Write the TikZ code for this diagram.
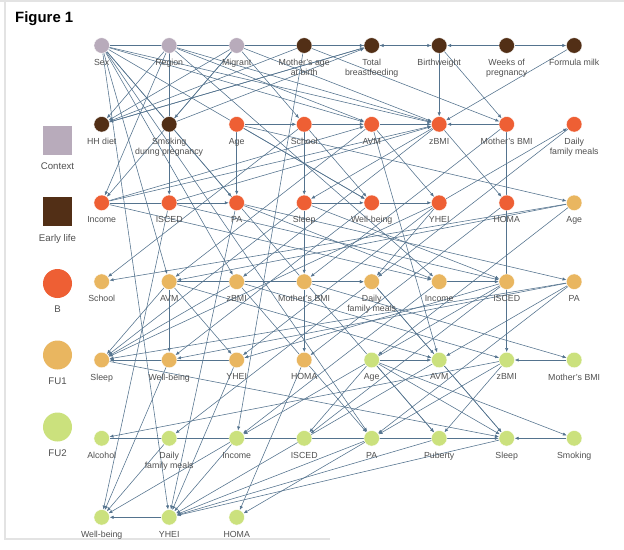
\documentclass[tikz,border=0pt]{standalone}
\usepackage{fontspec}
\setmainfont{Liberation Sans}
\usetikzlibrary{arrows.meta,backgrounds}
\definecolor{ctxgray}{RGB}{184,171,187}
\definecolor{earlybrown}{RGB}{82,47,22}
\definecolor{borange}{RGB}{238,95,52}
\definecolor{fuoneyellow}{RGB}{233,182,96}
\definecolor{futwogreen}{RGB}{203,225,125}
\definecolor{edgeblue}{RGB}{84,115,142}
\definecolor{labelgray}{RGB}{80,80,80}
\begin{document}
\begin{tikzpicture}[
	x=0.04cm,y=-0.04cm,
	var/.style={circle,minimum size=0.62cm,inner sep=0pt,draw=white,line width=0.4pt},
	ctx/.style={var,fill=ctxgray},
	early/.style={var,fill=earlybrown},
	base/.style={var,fill=borange},
	fuone/.style={var,fill=fuoneyellow},
	futwo/.style={var,fill=futwogreen},
	legsq/.style={minimum size=1.16cm,inner sep=0pt},
	legdot/.style={circle,minimum size=1.16cm,inner sep=0pt},
	every label/.style={font=\fontsize{10}{11.4}\selectfont,text=labelgray,align=center,inner sep=0pt},
	label distance=6.5pt,
	leglabel/.style={label distance=9pt,font=\fontsize{11}{12}\selectfont},
	edge/.style={draw=edgeblue,line width=0.65pt,-{Latex[length=4.5pt,width=3.8pt]}}
]
\useasboundingbox (0,0) rectangle (624,549);
%frame of the screenshot
\draw[gray!22,line width=1.2pt] (0,1)--(624,1) (5,1)--(5,539)--(330,539);
\node[anchor=base west,font=\fontsize{17}{20}\selectfont\bfseries,inner sep=0pt] (title) at (15,22.5) {Figure 1};
%legend
\node[legsq,fill=ctxgray,label={[leglabel]below:Context}] (legctx) at (57.5,140) {};
\node[legsq,fill=earlybrown,label={[leglabel]below:Early life}] (legearly) at (57.5,211.5) {};
\node[legdot,fill=borange,label={[leglabel]below:B}] (legb) at (57.5,283.5) {};
\node[legdot,fill=fuoneyellow,label={[leglabel]below:FU1}] (legfuone) at (57.5,355) {};
\node[legdot,fill=futwogreen,label={[leglabel]below:FU2}] (legfutwo) at (57.5,427) {};
%row 1
\node[ctx,label=below:Sex] (sex) at (101.7,45.5) {};
\node[ctx,label=below:Region] (region) at (169.2,45.5) {};
\node[ctx,label=below:Migrant] (migrant) at (236.7,45.5) {};
\node[early,label=below:{Mother's age\\at birth}] (mage) at (304.2,45.5) {};
\node[early,label=below:{Total\\breastfeeding}] (tbf) at (371.7,45.5) {};
\node[early,label=below:Birthweight] (bw) at (439.2,45.5) {};
\node[early,label=below:{Weeks of\\pregnancy}] (wop) at (506.7,45.5) {};
\node[early,label=below:Formula milk] (fm) at (574.2,45.5) {};
%row 2
\node[early,label=below:HH diet] (hhd) at (101.7,124.3) {};
\node[early,label=below:{Smoking\\during pregnancy}] (smk) at (169.2,124.3) {};
\node[base,label=below:Age] (ageB) at (236.7,124.3) {};
\node[base,label=below:School] (schoolB) at (304.2,124.3) {};
\node[base,label=below:AVM] (avmB) at (371.7,124.3) {};
\node[base,label=below:zBMI] (zbmiB) at (439.2,124.3) {};
\node[base,label=below:Mother's BMI] (mbmiB) at (506.7,124.3) {};
\node[base,label=below:{Daily\\family meals}] (dfmB) at (574.2,124.3) {};
%row 3
\node[base,label=below:Income] (incB) at (101.7,202.8) {};
\node[base,label=below:ISCED] (iscedB) at (169.2,202.8) {};
\node[base,label=below:PA] (paB) at (236.7,202.8) {};
\node[base,label=below:Sleep] (sleepB) at (304.2,202.8) {};
\node[base,label=below:Well-being] (wbB) at (371.7,202.8) {};
\node[base,label=below:YHEI] (yheiB) at (439.2,202.8) {};
\node[base,label=below:HOMA] (homaB) at (506.7,202.8) {};
\node[fuone,label=below:Age] (ageF) at (574.2,202.8) {};
%row 4
\node[fuone,label=below:School] (schoolF) at (101.7,281.7) {};
\node[fuone,label=below:AVM] (avmF) at (169.2,281.7) {};
\node[fuone,label=below:zBMI] (zbmiF) at (236.7,281.7) {};
\node[fuone,label=below:Mother's BMI] (mbmiF) at (304.2,281.7) {};
\node[fuone,label=below:{Daily\\family meals}] (dfmF) at (371.7,281.7) {};
\node[fuone,label=below:Income] (incF) at (439.2,281.7) {};
\node[fuone,label=below:ISCED] (iscedF) at (506.7,281.7) {};
\node[fuone,label=below:PA] (paF) at (574.2,281.7) {};
%row 5
\node[fuone,label=below:Sleep] (sleepF) at (101.7,360) {};
\node[fuone,label=below:Well-being] (wbF) at (169.2,360) {};
\node[fuone,label=below:YHEI] (yheiF) at (236.7,360) {};
\node[fuone,label=below:HOMA] (homaF) at (304.2,360) {};
\node[futwo,label=below:Age] (ageS) at (371.7,360) {};
\node[futwo,label=below:AVM] (avmS) at (439.2,360) {};
\node[futwo,label=below:zBMI] (zbmiS) at (506.7,360) {};
\node[futwo,label=below:Mother's BMI] (mbmiS) at (574.2,360) {};
%row 6
\node[futwo,label=below:Alcohol] (alcS) at (101.7,438.3) {};
\node[futwo,label=below:{Daily\\family meals}] (dfmS) at (169.2,438.3) {};
\node[futwo,label=below:Income] (incS) at (236.7,438.3) {};
\node[futwo,label=below:ISCED] (iscedS) at (304.2,438.3) {};
\node[futwo,label=below:PA] (paS) at (371.7,438.3) {};
\node[futwo,label=below:Puberty] (pubS) at (439.2,438.3) {};
\node[futwo,label=below:Sleep] (sleepS) at (506.7,438.3) {};
\node[futwo,label=below:Smoking] (smkS) at (574.2,438.3) {};
%row 7
\node[futwo,label=below:Well-being] (wbS) at (101.7,517.3) {};
\node[futwo,label=below:YHEI] (yheiS) at (169.2,517.3) {};
\node[futwo,label=below:HOMA] (homaS) at (236.7,517.3) {};
%arrows
\begin{scope}[on background layer]
\foreach \a/\b in {sex/bw,mage/tbf,bw/tbf,wop/bw,wop/fm,hhd/tbf,smk/tbf,
	region/hhd,migrant/hhd,mage/hhd,tbf/hhd,migrant/smk,
	bw/zbmiB,bw/mbmiB,mage/mbmiB,fm/zbmiB,mbmiB/zbmiB,
	ageB/schoolB,schoolB/avmB,avmB/zbmiB,sex/avmB,region/avmB,sex/zbmiB,region/zbmiB,
	migrant/zbmiB,incB/zbmiB,iscedB/zbmiB,incB/avmB,migrant/schoolB,yheiB/dfmB,
	region/incB,migrant/incB,region/iscedB,incB/paB,ageB/paB,schoolB/sleepB,zbmiB/sleepB,
	sleepB/wbB,wbB/yheiB,sex/wbB,ageB/wbB,schoolB/wbB,avmB/yheiB,zbmiB/homaB,sex/paB,
	ageB/ageF,
	ageF/schoolF,ageF/avmF,sex/avmF,avmB/avmF,sex/zbmiF,zbmiB/zbmiF,sleepB/mbmiF,
	mbmiB/mbmiF,dfmB/dfmF,yheiB/dfmF,mbmiF/dfmF,incB/incF,paB/incF,incF/iscedF,
	iscedB/iscedF,sleepB/iscedF,paB/paF,region/incF,schoolB/schoolF,avmF/dfmF,
	sleepB/sleepF,avmF/sleepF,paF/sleepF,zbmiF/sleepF,wbF/sleepF,yheiB/sleepF,yheiF/sleepF,
	wbB/wbF,avmF/wbF,paF/wbF,avmF/yheiF,yheiB/yheiF,iscedF/yheiF,mbmiF/homaF,homaB/homaF,
	ageF/ageS,ageS/avmS,avmF/avmS,paF/avmS,dfmF/avmS,avmB/avmS,
	mbmiS/zbmiS,zbmiF/zbmiS,mbmiB/zbmiS,mbmiF/mbmiS,
	zbmiS/alcS,alcS/sleepS,dfmF/dfmS,incF/incS,iscedF/incS,iscedF/iscedS,ageS/iscedS,
	paF/paS,zbmiF/paS,zbmiS/paS,sex/paS,mage/incS,
	ageS/pubS,zbmiS/pubS,sex/pubS,
	avmS/sleepS,dfmF/sleepS,ageS/sleepS,sleepF/sleepS,smkS/sleepS,ageS/smkS,
	wbF/wbS,incS/wbS,dfmS/wbS,iscedB/wbS,yheiS/wbS,
	yheiF/yheiS,incS/yheiS,paS/yheiS,pubS/yheiS,avmS/yheiS,sleepS/yheiS,sex/yheiS,paB/yheiS,
	homaF/homaS,paS/homaS}
	\draw[edge] (\a) -- (\b);
\end{scope}
\end{tikzpicture}
\end{document}
